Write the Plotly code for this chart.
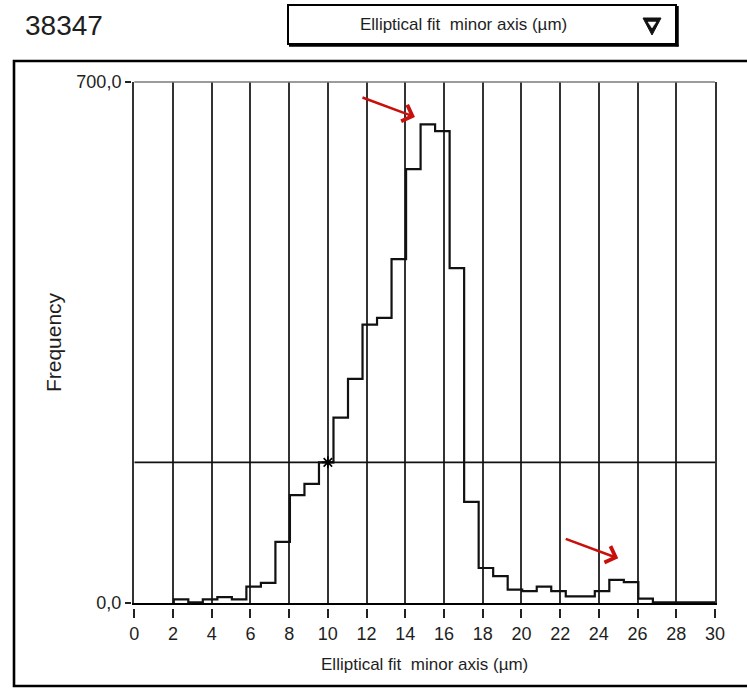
import plotly.graph_objects as go

# ---------------- data ----------------
bin_start = 2.04
bin_width = 0.75
counts = [5, 1, 5, 8, 5, 22, 27, 82, 145, 160, 189, 249, 301, 374, 383, 462,
          583, 643, 634, 450, 136, 47, 36, 18, 16, 22, 16, 9, 9, 16, 31, 28,
          6, 1, 1, 1, 1, 1]
x_range = [0, 30]
y_range = [0, 700]
x_ticks = list(range(0, 31, 2))
y_ticks = [0, 700]
cursor_x = [10]
cursor_y = [189]
arrow_tips_x = [14.5, 25.0]
arrow_tips_y = [653, 60]
count_label = "38347"
param_label = "Elliptical fit\u00a0 minor axis (µm)"
y_title = "Frequency"

# ---------------- geometry ----------------
W, H = 747, 688
ml, mr, mt, mb = 131, 32, 82, 80
pw = W - ml - mr
ph = H - mt - mb


def px(x):
    return (x - ml) / pw


def py(y):
    return (H - mb - y) / ph


x_dom0 = px(134.3)
y_dom0 = py(603)

FONT = "Liberation Sans, Arial, sans-serif"
TXT = "#1e1e1e"
GRID = "#333333"

edges = [bin_start + i * bin_width for i in range(len(counts) + 1)]
step_x = [edges[0]] + edges[:len(counts)] + [edges[len(counts)]]
step_y = [0] + counts + [counts[-1]]

fig = go.Figure()

# cursor horizontal line
fig.add_trace(go.Scatter(x=x_range, y=cursor_y * 2, mode="lines",
                         line=dict(color="#111111", width=1.8),
                         hoverinfo="skip", showlegend=False))
# histogram
fig.add_trace(go.Scatter(x=step_x, y=step_y, mode="lines",
                         line=dict(color="#111111", width=2.2, shape="hv"),
                         showlegend=False))
# cursor marker
fig.add_trace(go.Scatter(x=cursor_x, y=cursor_y, mode="markers",
                         marker=dict(symbol="asterisk-open", size=10,
                                     color="#000000",
                                     line=dict(color="#000000", width=1.6)),
                         showlegend=False))
# invisible trace to host tick axes
fig.add_trace(go.Scatter(x=x_range, y=y_range, xaxis="x2", yaxis="y2",
                         mode="markers", marker=dict(opacity=0),
                         hoverinfo="skip", showlegend=False))

fig.update_layout(
    width=W, height=H,
    margin=dict(l=ml, r=mr, t=mt, b=mb, pad=0),
    paper_bgcolor="white", plot_bgcolor="white",
    separators=", ",
    showlegend=False,
    xaxis=dict(domain=[x_dom0, 1], range=x_range, anchor="y",
               showgrid=True, gridcolor=GRID, gridwidth=1.8,
               tickvals=x_ticks, showticklabels=False, ticks="",
               zeroline=False, showline=True, linecolor="#000000",
               linewidth=2.2),
    yaxis=dict(domain=[y_dom0, 1], range=y_range, anchor="x",
               showgrid=False, zeroline=False, showticklabels=False,
               ticks="", showline=True, mirror=True, linecolor=GRID,
               linewidth=1.8),
    xaxis2=dict(overlaying="x", range=x_range, anchor="free", position=0,
                side="bottom", tickvals=x_ticks, ticks="outside",
                ticklen=9, tickwidth=1.5, tickcolor="#222222",
                showgrid=False, zeroline=False, showline=False,
                tickfont=dict(family=FONT, size=18, color=TXT),
                title=dict(text=param_label, standoff=15,
                           font=dict(family=FONT, size=17, color=TXT))),
    yaxis2=dict(overlaying="y", range=y_range, anchor="free", position=0,
                side="left", tickvals=y_ticks, tickformat=".1f",
                ticks="outside", ticklen=6, tickwidth=1.5,
                tickcolor="#222222", showgrid=False, zeroline=False,
                showline=False,
                tickfont=dict(family=FONT, size=18, color=TXT),
                title=dict(text=y_title, standoff=8,
                           font=dict(family=FONT, size=21, color=TXT))),
)

shapes = []
# top border of plot area (lighter)
shapes.append(dict(type="line", xref="x domain", yref="y domain",
                   x0=0, x1=1, y0=1, y1=1,
                   line=dict(color="#7a7a7a", width=1.6)))
# outer frame
shapes.append(dict(type="rect", xref="paper", yref="paper",
                   x0=px(14), x1=px(760), y0=py(686), y1=py(61),
                   line=dict(color="#000000", width=2.6)))
# dropdown box
shapes.append(dict(type="rect", xref="paper", yref="paper",
                   x0=px(288), x1=px(676), y0=py(44), y1=py(5),
                   line=dict(color="#000000", width=2)))
shapes.append(dict(type="line", xref="paper", yref="paper",
                   x0=px(289), x1=px(678.5), y0=py(45.5), y1=py(45.5),
                   line=dict(color="#000000", width=2.5)))
shapes.append(dict(type="line", xref="paper", yref="paper",
                   x0=px(677.5), x1=px(677.5), y0=py(6), y1=py(46.5),
                   line=dict(color="#000000", width=2.5)))
# dropdown triangle
tri_outer = "M {} {} L {} {} L {} {} Z".format(px(643), py(18), px(661), py(18),
                                               px(652), py(35))
tri_inner = "M {} {} L {} {} L {} {} Z".format(px(648), py(22), px(656),
                                               py(22), px(652), py(28))
shapes.append(dict(type="path", xref="paper", yref="paper", path=tri_outer,
                   fillcolor="#111111", line=dict(color="#111111", width=1)))
shapes.append(dict(type="path", xref="paper", yref="paper", path=tri_inner,
                   fillcolor="white", line=dict(color="white", width=0.5)))
fig.update_layout(shapes=shapes)

annotations = [
    dict(text=count_label, xref="paper", yref="paper", x=px(64), y=py(26),
         xanchor="center", yanchor="middle", showarrow=False,
         font=dict(family=FONT, size=28, color=TXT)),
    dict(text=param_label, xref="paper", yref="paper", x=px(463), y=py(25),
         xanchor="center", yanchor="middle", showarrow=False,
         font=dict(family=FONT, size=17, color=TXT)),
]
for tx, ty in zip(arrow_tips_x, arrow_tips_y):
    annotations.append(dict(text="", x=tx, y=ty, xref="x", yref="y",
                            ax=-54, ay=-20, showarrow=True, arrowhead=4,
                            arrowsize=1.3, arrowwidth=2.6, standoff=0,
                            arrowcolor="#c8100c"))
fig.update_layout(annotations=annotations)

fig.write_html("out.html")
